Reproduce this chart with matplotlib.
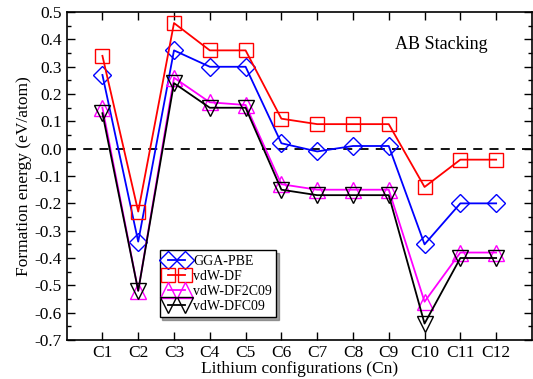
import matplotlib
matplotlib.use("Agg")
import matplotlib.pyplot as plt
from matplotlib.ticker import MultipleLocator

plt.rcParams['font.family'] = ['Liberation Serif', 'DejaVu Serif']

configs = ["C1", "C2", "C3", "C4", "C5", "C6", "C7", "C8", "C9", "C10", "C11", "C12"]
gga_pbe = [0.27, -0.34, 0.36, 0.30, 0.30, 0.02, -0.01, 0.01, 0.01, -0.35, -0.20, -0.20]
vdw_df = [0.34, -0.23, 0.46, 0.36, 0.36, 0.11, 0.09, 0.09, 0.09, -0.14, -0.04, -0.04]
vdw_df2c09 = [0.15, -0.52, 0.26, 0.17, 0.16, -0.13, -0.15, -0.15, -0.15, -0.56, -0.38, -0.38]
vdw_dfc09 = [0.13, -0.52, 0.24, 0.15, 0.15, -0.15, -0.17, -0.17, -0.17, -0.64, -0.40, -0.40]

x = list(range(1, len(configs) + 1))

fig = plt.figure(figsize=(5.33, 3.79), dpi=100)
ax = fig.add_axes([0.125, 0.103, 0.873, 0.865])

ax.axhline(0, color='black', linestyle=(0, (5, 4)), linewidth=1.3, zorder=1)

series = [
    (gga_pbe, 'blue', 'D', 9, "GGA-PBE"),
    (vdw_df, 'red', 's', 10, "vdW-DF"),
    (vdw_df2c09, 'magenta', '^', 12, "vdW-DF2C09"),
    (vdw_dfc09, 'black', 'v', 12, "vdW-DFC09"),
]
for vals, c, m, ms, lab in series:
    ax.plot(x, vals, color=c, marker=m, markersize=ms, markerfacecolor='none',
            markeredgecolor=c, markeredgewidth=1.0, linewidth=1.3, label=lab, zorder=3)

ax.set_xlim(0, 13)
ax.set_ylim(-0.7, 0.5)
ax.set_xticks(x)
ax.set_xticklabels(configs)
ax.yaxis.set_major_locator(MultipleLocator(0.1))
ax.yaxis.set_minor_locator(MultipleLocator(0.05))
ax.set_yticklabels([f"{v:.1f}" for v in ax.get_yticks()])
ax.tick_params(axis='both', which='both', direction='in', top=True, right=True, labelsize=12.5)
ax.tick_params(which='major', length=6, width=1)
ax.tick_params(which='minor', length=3, width=1)
for s in ax.spines.values():
    s.set_linewidth(1.2)

ax.set_xlabel("Lithium configurations (Cn)", fontsize=12.5, labelpad=0)
ax.set_ylabel("Formation energy (eV/atom)", fontsize=12.5, labelpad=2)

ax.text(0.805, 0.9, "AB Stacking", transform=ax.transAxes, fontsize=13,
        ha='center', va='center')

leg = ax.legend(loc='lower left', bbox_to_anchor=(0.2, 0.07), numpoints=2,
                fontsize=10, frameon=True, fancybox=False, shadow=True,
                handlelength=1.8, handletextpad=0.3, borderpad=0.3,
                labelspacing=0.15, borderaxespad=0)
leg.get_frame().set_edgecolor('black')
leg.get_frame().set_linewidth(1.0)

fig.savefig("out.png", dpi=100)
